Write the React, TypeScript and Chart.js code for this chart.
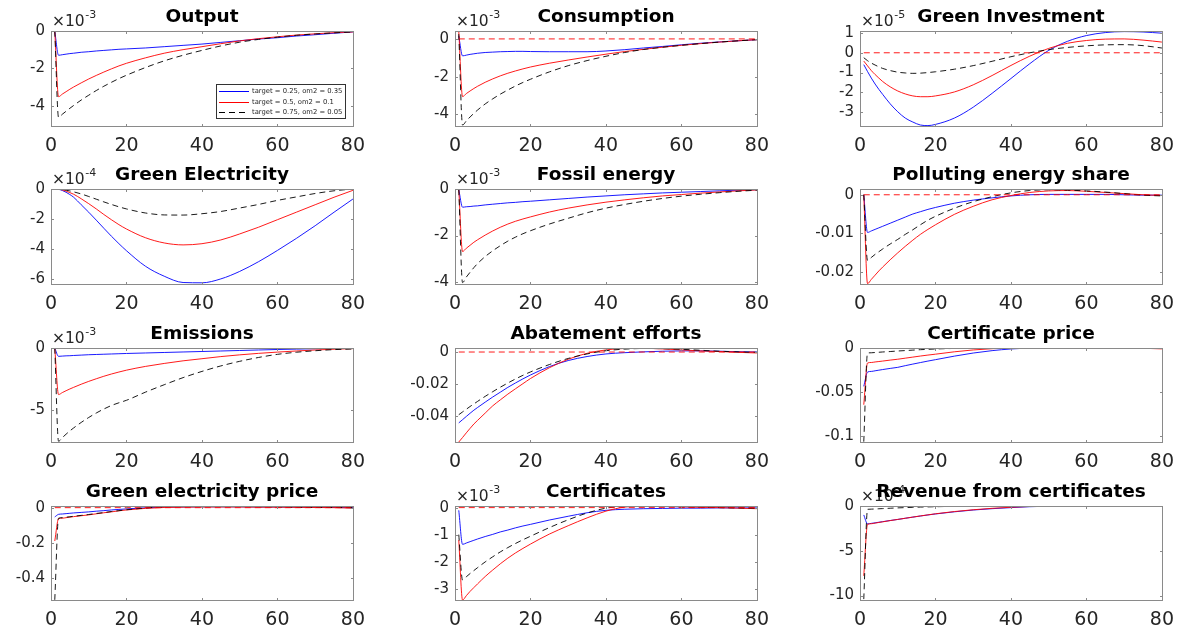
import React, { useEffect, useRef } from "react";
import { Chart, registerables } from "chart.js";
Chart.register(...registerables);

// ---------- data ----------
const T = [1, 2, 3, 4, 5, 6, 8, 10, 12, 14, 16, 18, 20, 25, 30, 35, 40, 45, 50, 55, 60, 65, 70, 75, 80];
const ZERO_X = [1, 80];
const X_TICKS = [0, 20, 40, 60, 80];
const LEGEND_LABELS = ["target = 0.25, om2 = 0.35", "target = 0.5, om2 = 0.1", "target = 0.75, om2 = 0.05"];

const TITLES = [
  "Output", "Consumption", "Green Investment",
  "Green Electricity", "Fossil energy", "Polluting energy share",
  "Emissions", "Abatement efforts", "Certificate price",
  "Green electricity price", "Certificates", "Revenue from certificates",
];
const EXPONENTS = ["-3", "-3", "-5", "-4", "-3", "", "-3", "", "", "", "-3", "-4"];

const Y_TICKS = [
  [-4, -2, 0], [-4, -2, 0], [-3, -2, -1, 0, 1],
  [-6, -4, -2, 0], [-4, -2, 0], [-0.02, -0.01, 0],
  [-5, 0], [-0.04, -0.02, 0], [-0.1, -0.05, 0],
  [-0.4, -0.2, 0], [-3, -2, -1, 0], [-10, -5, 0],
];
const Y_MIN = [-5.09, -4.62, -3.7, -6.34, -4.1, -0.0232, -7.55, -0.056, -0.1064, -0.526, -3.42, -10.5];
const Y_MAX = [0, 0.42, 1.1, 0, 0.02, 0.0015, 0, 0.0025, 0, 0.0095, 0.06, 0];

// Output (x1e-3)
const OUTPUT_B = [0, -1.3, -1.27, -1.24, -1.21, -1.19, -1.14, -1.11, -1.07, -1.04, -1.01, -0.98, -0.96, -0.91, -0.84, -0.77, -0.7, -0.61, -0.52, -0.43, -0.36, -0.27, -0.2, -0.12, -0.05];
const OUTPUT_R = [0, -3.52, -3.38, -3.25, -3.12, -3.0, -2.78, -2.57, -2.38, -2.2, -2.03, -1.87, -1.73, -1.44, -1.19, -1.0, -0.84, -0.68, -0.53, -0.41, -0.31, -0.22, -0.15, -0.09, -0.05];
const OUTPUT_K = [0, -4.63, -4.46, -4.3, -4.14, -3.99, -3.7, -3.44, -3.19, -2.96, -2.75, -2.55, -2.37, -1.96, -1.6, -1.3, -1.04, -0.8, -0.6, -0.45, -0.33, -0.23, -0.16, -0.1, -0.05];
// Consumption (x1e-3)
const CONS_B = [0.15, -0.9, -0.86, -0.82, -0.79, -0.76, -0.72, -0.7, -0.68, -0.67, -0.66, -0.66, -0.67, -0.68, -0.68, -0.68, -0.64, -0.57, -0.48, -0.4, -0.31, -0.23, -0.16, -0.1, -0.04];
const CONS_R = [0.4, -3.06, -2.9, -2.76, -2.63, -2.51, -2.3, -2.12, -1.96, -1.82, -1.7, -1.59, -1.49, -1.29, -1.12, -0.96, -0.81, -0.67, -0.55, -0.44, -0.34, -0.25, -0.17, -0.1, -0.04];
const CONS_K = [0.25, -4.57, -4.35, -4.14, -3.95, -3.77, -3.45, -3.18, -2.93, -2.71, -2.5, -2.31, -2.14, -1.75, -1.42, -1.15, -0.92, -0.72, -0.56, -0.44, -0.34, -0.25, -0.17, -0.1, -0.04];
// Green Investment (x1e-5)
const GINV_B = [-0.6, -0.95, -1.28, -1.58, -1.85, -2.1, -2.58, -2.98, -3.3, -3.5, -3.65, -3.68, -3.62, -3.3, -2.75, -2.05, -1.3, -0.55, 0.12, 0.58, 0.87, 1.02, 1.07, 1.05, 0.99];
const GINV_R = [-0.42, -0.66, -0.9, -1.1, -1.28, -1.45, -1.72, -1.93, -2.08, -2.18, -2.22, -2.22, -2.18, -1.98, -1.62, -1.15, -0.64, -0.17, 0.22, 0.48, 0.62, 0.69, 0.7, 0.64, 0.54];
const GINV_K = [-0.25, -0.4, -0.52, -0.62, -0.71, -0.79, -0.9, -0.98, -1.02, -1.04, -1.03, -1.0, -0.96, -0.83, -0.65, -0.43, -0.2, 0.0, 0.16, 0.27, 0.35, 0.4, 0.41, 0.36, 0.24];
// Green Electricity (x1e-4)
const GELEC_B = [0, -0.02, -0.1, -0.22, -0.37, -0.55, -1.05, -1.55, -2.08, -2.62, -3.15, -3.65, -4.12, -5.15, -5.82, -6.24, -6.26, -6.0, -5.5, -4.85, -4.1, -3.3, -2.45, -1.55, -0.67];
const GELEC_R = [0, -0.01, -0.06, -0.14, -0.24, -0.35, -0.65, -0.98, -1.33, -1.7, -2.05, -2.38, -2.67, -3.25, -3.6, -3.73, -3.65, -3.4, -3.0, -2.55, -2.05, -1.55, -1.05, -0.55, -0.09];
const GELEC_K = [0, -0.01, -0.04, -0.08, -0.13, -0.19, -0.33, -0.5, -0.68, -0.86, -1.03, -1.19, -1.33, -1.6, -1.73, -1.74, -1.65, -1.5, -1.27, -1.03, -0.76, -0.53, -0.3, -0.12, 0.0];
// Fossil energy (x1e-3)
const FOSSIL_B = [0, -0.77, -0.75, -0.74, -0.72, -0.71, -0.67, -0.64, -0.61, -0.58, -0.56, -0.53, -0.51, -0.45, -0.39, -0.33, -0.28, -0.23, -0.19, -0.15, -0.12, -0.09, -0.06, -0.03, -0.01];
const FOSSIL_R = [0, -2.69, -2.55, -2.42, -2.29, -2.18, -1.98, -1.8, -1.64, -1.5, -1.38, -1.28, -1.19, -0.98, -0.81, -0.67, -0.55, -0.45, -0.36, -0.28, -0.22, -0.16, -0.11, -0.06, -0.02];
const FOSSIL_K = [0, -4.04, -3.8, -3.59, -3.39, -3.21, -2.91, -2.66, -2.44, -2.24, -2.07, -1.92, -1.79, -1.5, -1.25, -1.01, -0.81, -0.65, -0.51, -0.39, -0.29, -0.21, -0.14, -0.08, -0.03];
// Polluting energy share
const POLL_B = [0, -0.0098, -0.0094, -0.009, -0.0086, -0.0082, -0.0074, -0.0066, -0.0058, -0.005, -0.0044, -0.0038, -0.0033, -0.0022, -0.0014, -0.0008, -0.0003, 0.0, 0.0001, 0.0001, 0.0001, 0.0001, 0.0, -0.0001, -0.0001];
const POLL_R = [0, -0.0231, -0.022, -0.0209, -0.0198, -0.0188, -0.0169, -0.0151, -0.0134, -0.0118, -0.0103, -0.009, -0.0078, -0.0051, -0.003, -0.0013, -0.0002, 0.0006, 0.001, 0.0011, 0.0009, 0.0006, 0.0003, 0.0, -0.0002];
const POLL_K = [0, -0.0171, -0.0163, -0.0155, -0.0148, -0.0141, -0.0128, -0.0116, -0.0103, -0.0091, -0.0078, -0.0066, -0.0056, -0.0035, -0.0018, -0.0005, 0.0005, 0.0011, 0.0013, 0.0012, 0.001, 0.0007, 0.0003, -0.0001, -0.0003];
// Emissions (x1e-3)
const EMIS_B = [0, -0.67, -0.65, -0.63, -0.62, -0.6, -0.57, -0.54, -0.52, -0.5, -0.48, -0.46, -0.44, -0.4, -0.36, -0.32, -0.28, -0.24, -0.2, -0.16, -0.12, -0.09, -0.06, -0.03, -0.01];
const EMIS_R = [0, -3.74, -3.58, -3.43, -3.29, -3.16, -2.91, -2.68, -2.47, -2.27, -2.09, -1.93, -1.78, -1.48, -1.24, -1.03, -0.86, -0.69, -0.55, -0.43, -0.33, -0.24, -0.16, -0.1, -0.05];
const EMIS_K = [0, -7.49, -7.2, -6.92, -6.66, -6.42, -5.98, -5.58, -5.22, -4.9, -4.62, -4.4, -4.2, -3.55, -2.95, -2.38, -1.88, -1.44, -1.07, -0.76, -0.51, -0.34, -0.22, -0.13, -0.08];
// Abatement efforts
const ABATE_B = [-0.0441, -0.0421, -0.0401, -0.0381, -0.0362, -0.0345, -0.0312, -0.028, -0.025, -0.022, -0.0193, -0.0167, -0.0143, -0.0091, -0.0053, -0.0028, -0.0012, -0.0004, 0.0001, 0.0005, 0.0007, 0.0007, 0.0005, 0.0002, 0.0];
const ABATE_R = [-0.056, -0.0532, -0.0503, -0.0475, -0.0448, -0.0425, -0.038, -0.0335, -0.0298, -0.0262, -0.0229, -0.0197, -0.0165, -0.0098, -0.0045, -0.0008, 0.0013, 0.0022, 0.0023, 0.0019, 0.0013, 0.0007, 0.0003, -0.0002, -0.0006];
const ABATE_K = [-0.039, -0.0373, -0.0356, -0.0339, -0.0323, -0.0307, -0.0276, -0.0247, -0.0219, -0.0193, -0.0168, -0.0145, -0.0124, -0.0078, -0.004, -0.0012, 0.0008, 0.0018, 0.0022, 0.0021, 0.0017, 0.0011, 0.0005, 0.0001, -0.0002];
// Certificate price
const CPRICE_B = [-0.0434, -0.0272, -0.0265, -0.0258, -0.0251, -0.0244, -0.0231, -0.0219, -0.02, -0.0182, -0.0165, -0.0148, -0.0132, -0.0092, -0.0057, -0.003, -0.0011, -0.0002, 0, 0, 0, 0, 0, 0, -0.0002];
const CPRICE_R = [-0.0642, -0.017, -0.0164, -0.0158, -0.0153, -0.0148, -0.0137, -0.0127, -0.0115, -0.0103, -0.0091, -0.008, -0.007, -0.0043, -0.0022, -0.0008, 0, 0.0001, 0.0001, 0.0001, 0, 0, 0, -0.0003, -0.001];
const CPRICE_K = [-0.106, -0.0057, -0.0054, -0.0051, -0.0048, -0.0045, -0.004, -0.0034, -0.0029, -0.0024, -0.0019, -0.0015, -0.0011, -0.0005, -0.0001, 0, 0, 0, 0, 0, 0, 0, 0, 0, 0];
// Green electricity price
const GEPRICE_B = [-0.053, -0.038, -0.036, -0.034, -0.032, -0.03, -0.027, -0.024, -0.02, -0.017, -0.013, -0.01, -0.007, -0.001, 0.003, 0.004, 0.005, 0.005, 0.005, 0.004, 0.004, 0.003, 0.002, 0.001, 0.0];
const GEPRICE_R = [-0.19, -0.063, -0.06, -0.057, -0.054, -0.051, -0.046, -0.041, -0.035, -0.029, -0.024, -0.018, -0.013, -0.004, 0.001, 0.003, 0.004, 0.004, 0.004, 0.003, 0.003, 0.002, 0.001, 0.0, -0.002];
const GEPRICE_K = [-0.525, -0.06, -0.057, -0.054, -0.052, -0.049, -0.044, -0.039, -0.033, -0.028, -0.022, -0.017, -0.012, -0.002, 0.005, 0.008, 0.009, 0.008, 0.007, 0.006, 0.005, 0.003, 0.002, 0.001, 0.0];
// Certificates (x1e-3)
const CERT_B = [-0.1, -1.36, -1.31, -1.26, -1.21, -1.16, -1.07, -0.99, -0.9, -0.83, -0.75, -0.68, -0.62, -0.46, -0.32, -0.19, -0.1, -0.06, -0.04, -0.03, -0.02, -0.02, -0.01, -0.01, -0.01];
const CERT_R = [-1.2, -3.42, -3.26, -3.1, -2.96, -2.82, -2.55, -2.31, -2.08, -1.87, -1.68, -1.51, -1.35, -0.98, -0.67, -0.38, -0.13, 0.02, 0.05, 0.05, 0.03, 0.01, 0.0, -0.02, -0.04];
const CERT_K = [-1.0, -2.68, -2.56, -2.44, -2.33, -2.22, -2.01, -1.82, -1.64, -1.48, -1.33, -1.19, -1.06, -0.74, -0.45, -0.2, -0.02, 0.05, 0.06, 0.05, 0.03, 0.02, 0.0, -0.01, -0.02];
// Revenue from certificates (x1e-4)
const REV_B = [-1.0, -2.0, -1.94, -1.88, -1.81, -1.75, -1.62, -1.5, -1.37, -1.24, -1.12, -1.0, -0.89, -0.65, -0.45, -0.3, -0.18, -0.08, -0.02, 0, 0, 0, 0, 0, 0];
const REV_R = [-7.8, -2.05, -1.98, -1.91, -1.84, -1.77, -1.63, -1.5, -1.37, -1.24, -1.11, -0.99, -0.87, -0.62, -0.42, -0.26, -0.14, -0.05, 0, 0, 0, 0, 0, 0, 0];
const REV_K = [-10.4, -0.37, -0.35, -0.33, -0.31, -0.29, -0.25, -0.21, -0.18, -0.15, -0.12, -0.1, -0.08, -0.04, -0.02, -0.01, 0, 0, 0, 0, 0, 0, 0, 0, 0];

const SERIES = [
  [OUTPUT_B, OUTPUT_R, OUTPUT_K], [CONS_B, CONS_R, CONS_K], [GINV_B, GINV_R, GINV_K],
  [GELEC_B, GELEC_R, GELEC_K], [FOSSIL_B, FOSSIL_R, FOSSIL_K], [POLL_B, POLL_R, POLL_K],
  [EMIS_B, EMIS_R, EMIS_K], [ABATE_B, ABATE_R, ABATE_K], [CPRICE_B, CPRICE_R, CPRICE_K],
  [GEPRICE_B, GEPRICE_R, GEPRICE_K], [CERT_B, CERT_R, CERT_K], [REV_B, REV_R, REV_K],
];

// ---------- layout ----------
const AX_LEFT = [51, 455, 860];
const AX_W = 307;
const AX_TOP = [31, 189, 348, 506];
const AX_BOTTOM = [126, 284, 442, 600];
const PT = 30, PR = 16, YW = 50, XB = 32;
const FONT = '"DejaVu Sans", "Liberation Sans", Arial, sans-serif';
const COLORS = ["#0000ff", "#ff0000", "#000000"];
const DASHES = [[], [], [6, 4]];

function fmt(v: number) {
  if (Math.abs(v) < 1e-12) return "0";
  return String(Number(v.toPrecision(6)));
}

const framePlugin = {
  id: "frame",
  afterDraw(chart: any, _args: any, opts: any) {
    const { ctx, chartArea: a, scales } = chart;
    const L = Math.round(a.left), R = Math.round(a.right), Tp = Math.round(a.top), B = Math.round(a.bottom);
    ctx.save();
    // box
    ctx.strokeStyle = "#8a8a8a";
    ctx.lineWidth = 1;
    ctx.setLineDash([]);
    ctx.strokeRect(L + 0.5, Tp + 0.5, R - L, B - Tp);
    // inward ticks
    ctx.beginPath();
    for (const t of scales.y.ticks) {
      const y = Math.round(scales.y.getPixelForValue(t.value)) + 0.5;
      if (y <= Tp + 1 || y >= B) continue;
      ctx.moveTo(L, y); ctx.lineTo(L + 3, y);
      ctx.moveTo(R + 1, y); ctx.lineTo(R - 2, y);
    }
    for (const t of scales.x.ticks) {
      const x = Math.round(scales.x.getPixelForValue(t.value)) + 0.5;
      if (x <= L + 1 || x >= R) continue;
      ctx.moveTo(x, B + 1); ctx.lineTo(x, B - 2);
      ctx.moveTo(x, Tp); ctx.lineTo(x, Tp + 3);
    }
    ctx.stroke();

    // exponent label
    if (opts.exp) {
      ctx.fillStyle = "#262626";
      ctx.textAlign = "left";
      ctx.textBaseline = "alphabetic";
      ctx.font = `15.5px ${FONT}`;
      const base = "\u00d710";
      ctx.fillText(base, L + 1, Tp - 5);
      const w = ctx.measureText(base).width;
      ctx.font = `11px ${FONT}`;
      ctx.fillText(opts.exp, L + 1 + w + 0.5, Tp - 13);
    }
    // title
    ctx.fillStyle = "#000";
    ctx.textAlign = "center";
    ctx.textBaseline = "alphabetic";
    ctx.font = `bold 18.5px ${FONT}`;
    ctx.fillText(opts.title, (L + R) / 2, Tp - 9);

    // legend
    if (opts.legend) {
      const bw = 129, bh = 34;
      const bx = R - 8 - bw, by = B - 8 - bh;
      ctx.fillStyle = "#fff";
      ctx.fillRect(bx, by, bw, bh);
      ctx.strokeStyle = "#333";
      ctx.strokeRect(bx + 0.5, by + 0.5, bw, bh);
      ctx.font = `6.8px ${FONT}`;
      ctx.textAlign = "left";
      ctx.textBaseline = "middle";
      LEGEND_LABELS.forEach((label, i) => {
        const y = Math.round(by + 7 + i * 10.5) + 0.5;
        ctx.beginPath();
        ctx.setLineDash(DASHES[i]);
        ctx.strokeStyle = COLORS[i];
        ctx.lineWidth = 1;
        ctx.moveTo(bx + 3, y); ctx.lineTo(bx + 33, y);
        ctx.stroke();
        ctx.setLineDash([]);
        ctx.fillStyle = "#262626";
        ctx.fillText(label, bx + 36, y);
      });
    }
    ctx.restore();
  },
};

function Panel({ idx }: { idx: number }) {
  const ref = useRef<HTMLCanvasElement>(null);
  const col = idx % 3, row = Math.floor(idx / 3);
  const axL = AX_LEFT[col], axT = AX_TOP[row];
  const axH = AX_BOTTOM[row] - AX_TOP[row];
  const w = YW + AX_W + PR, h = PT + axH + XB;

  useEffect(() => {
    const series = SERIES[idx];
    const datasets: any[] = series.map((arr, i) => ({
      label: LEGEND_LABELS[i],
      data: T.map((t, j) => ({ x: t, y: arr[j] })),
      borderColor: COLORS[i],
      borderDash: DASHES[i],
      borderWidth: 0.9,
      pointRadius: 0,
      fill: false,
      cubicInterpolationMode: "monotone",
      order: 3 - i,
    }));
    datasets.push({
      label: "zero",
      data: ZERO_X.map((x) => ({ x, y: 0 })),
      borderColor: "#ff0000",
      borderDash: [6, 4],
      borderWidth: 0.9,
      pointRadius: 0,
      fill: false,
      order: 0,
    });
    const chart = new Chart(ref.current as HTMLCanvasElement, {
      type: "line",
      data: { datasets },
      options: {
        responsive: false,
        animation: false,
        events: [],
        layout: { padding: { top: PT, right: PR, left: 0, bottom: 0 } },
        plugins: {
          legend: { display: false },
          tooltip: { enabled: false },
          title: { display: false },
          frame: { title: TITLES[idx], exp: EXPONENTS[idx], legend: idx === 0 },
        } as any,
        scales: {
          x: {
            type: "linear",
            min: 0,
            max: 80,
            grid: { display: false, drawTicks: false },
            border: { display: false },
            afterBuildTicks: (s: any) => { s.ticks = X_TICKS.map((v) => ({ value: v })); },
            afterFit: (s: any) => { s.height = XB; },
            ticks: {
              autoSkip: false, maxRotation: 0, minRotation: 0, padding: 9,
              color: "#262626", font: { family: FONT, size: 19 },
              callback: (v: any) => fmt(Number(v)),
            },
          },
          y: {
            type: "linear",
            min: Y_MIN[idx],
            max: Y_MAX[idx],
            grid: { display: false, drawTicks: false },
            border: { display: false },
            afterBuildTicks: (s: any) => { s.ticks = Y_TICKS[idx].map((v) => ({ value: v })); },
            afterFit: (s: any) => { s.width = YW; },
            ticks: {
              autoSkip: false, padding: 6,
              color: "#262626", font: { family: FONT, size: 15 },
              callback: (v: any) => fmt(Number(v)),
            },
          },
        } as any,
      },
      plugins: [framePlugin],
    } as any);
    return () => chart.destroy();
  }, [idx]);

  return (
    <canvas
      ref={ref}
      width={w}
      height={h}
      style={{ position: "absolute", left: axL - YW, top: axT - PT, width: w, height: h }}
    />
  );
}

export default function App() {
  return (
    <div style={{ position: "absolute", left: 0, top: 0, width: 1191, height: 631, background: "#fff", overflow: "hidden" }}>
      {TITLES.map((_, i) => <Panel key={i} idx={i} />)}
    </div>
  );
}
